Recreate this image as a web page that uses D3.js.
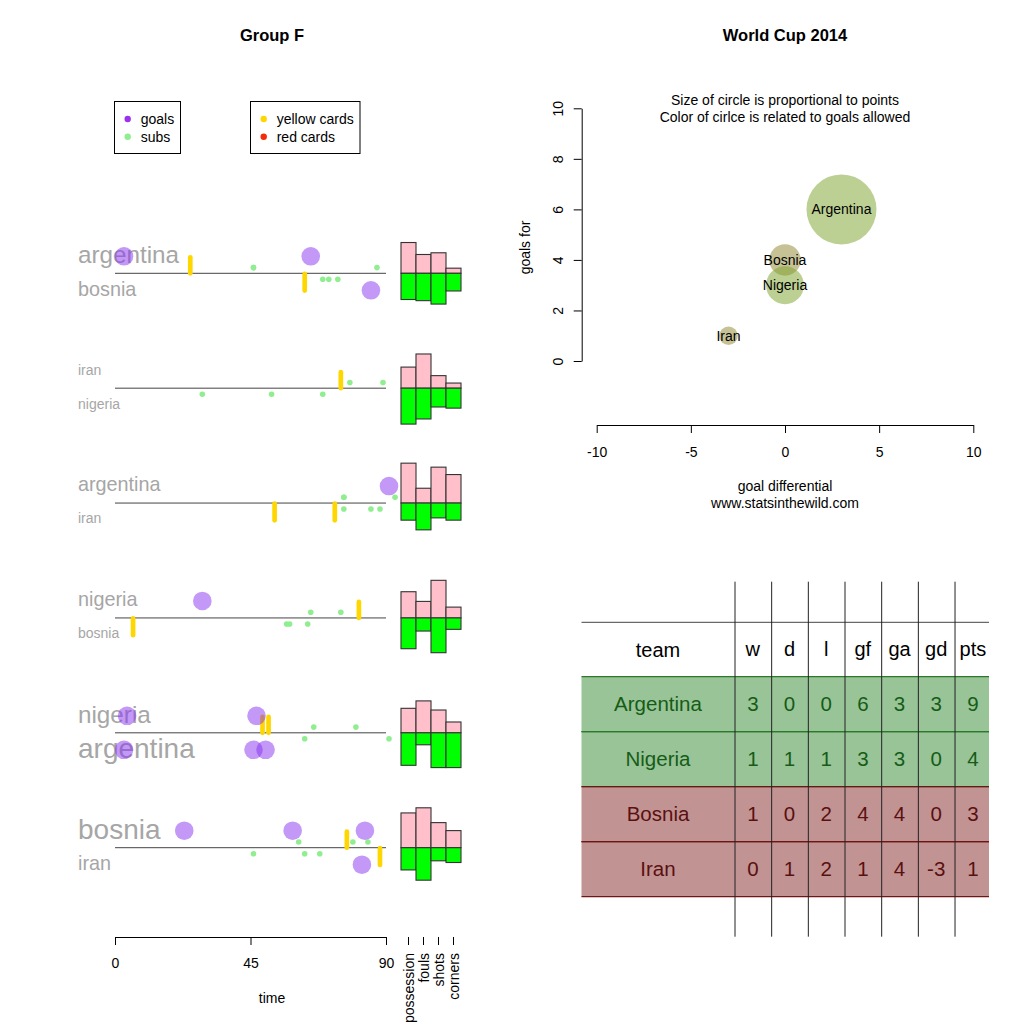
<!DOCTYPE html>
<html><head><meta charset="utf-8">
<script src="https://cdn.jsdelivr.net/npm/d3@7"></script>
<style>
body{margin:0;background:#fff}
svg{display:block}
text{font-family:"Liberation Sans",Arial,Helvetica,sans-serif}
</style>
</head><body>
<svg id="c" width="1024" height="1024"></svg>
<script>
// ---------- data: match timelines ----------
const team1 = ["argentina","iran","argentina","nigeria","nigeria","bosnia"];
const team2 = ["bosnia","nigeria","iran","bosnia","argentina","iran"];
const goals1 = [[3,65],[],[91],[29],[4,47],[23,59,83]];
const goals2 = [[85],[],[],[],[3,46,50],[82]];
const subs1 = [[46,46,87],[78,89],[76,76,93],[65,75],[66,80],[61,79,84]];
const subs2 = [[69,71,74],[29,52,69],[76,85,88],[57,58,64],[63,91],[46,63,68]];
const yellow1 = [[25],[75],[],[81],[49,51],[77]];
const yellow2 = [[63],[],[53,73],[6],[],[88]];
const red1 = [[],[],[],[],[],[]];
const red2 = [[],[],[],[],[],[]];
const statNames = ["possession","fouls","shots","corners"];
const stats1 = [[54,33,36,9],[37,60,22,9],[70,26,63,50],[46,29,66,19],[43,56,40,19],[61,70,44,30]];
const stats2 = [[46,48,54,31],[63,54,33,35],[30,47,26,30],[54,23,61,20],[57,21,61,61],[39,57,23,26]];
const timeTicks = [0,45,90];
const legend1 = ["goals","subs"];
const legend2 = ["yellow cards","red cards"];

// ---------- data: group table ----------
const teams = ["Argentina","Nigeria","Bosnia","Iran"];
const wins = [3,1,1,0];
const draws = [0,1,0,1];
const losses = [0,1,2,2];
const goalsFor = [6,3,4,1];
const goalsAgainst = [3,3,4,4];
const goalDiff = [3,0,0,-3];
const points = [9,4,3,1];
const advanced = [true,true,false,false];
const tableCols = ["w","d","l","gf","ga","gd","pts"];
const gdTicks = [-10,-5,0,5,10];
const gfTicks = [0,2,4,6,8,10];

const svg = d3.select("#c");
const gray = "#a6a6a6";
const FF = "Liberation Sans, Arial, sans-serif";
const FS = 14;
const plain = d => String(d);

// ---------- titles ----------
svg.append("text").attr("x",272).attr("y",41).attr("text-anchor","middle")
  .attr("font-weight","bold").attr("font-size",16.5).text("Group F");
svg.append("text").attr("x",785).attr("y",41).attr("text-anchor","middle")
  .attr("font-weight","bold").attr("font-size",16.5).text("World Cup 2014");

// ---------- legends ----------
const legColors1 = ["#9b30f0","#90ee90"];
const legColors2 = ["#ffd700","#f42a0a"];
function drawLegend(x, w, labels, colors){
  const g = svg.append("g");
  g.append("rect").attr("x",x).attr("y",101.5).attr("width",w).attr("height",52)
    .attr("fill","none").attr("stroke","#000").attr("stroke-width",1);
  labels.forEach((l,k)=>{
    const cy = 119 + k*17.7;
    g.append("circle").attr("cx",x+13.2).attr("cy",cy).attr("r",3.2).attr("fill",colors[k]);
    g.append("text").attr("x",x+26.2).attr("y",cy+5).attr("font-size",FS).text(l);
  });
}
drawLegend(114.5, 66, legend1, legColors1);
drawLegend(250.5, 109.5, legend2, legColors2);

// ---------- match rows ----------
const xT = d3.scaleLinear().domain([0,90]).range([115,386]);
const yRow = d3.scaleLinear().domain([0,5]).range([273.3,847.7]);
const xStat = d3.scaleBand().domain(statNames).range([401,461]);
const hStat = d3.scaleLinear().domain([0,100]).range([0,57]);
const fsOf = g => 14*Math.sqrt(g+1);

team1.forEach((t1,i)=>{
  const y0 = yRow(i);
  const g = svg.append("g");
  const fs1 = fsOf(goals1[i].length), fs2 = fsOf(goals2[i].length);
  g.append("text").attr("x",78).attr("y",y0-18.5+0.35*fs1).attr("font-size",fs1).attr("fill",gray).text(t1);
  g.append("text").attr("x",78).attr("y",y0+15.5+0.35*fs2).attr("font-size",fs2).attr("fill",gray).text(team2[i]);
  g.append("line").attr("x1",xT(0)).attr("x2",xT(90)).attr("y1",y0).attr("y2",y0)
    .attr("stroke","#444").attr("stroke-width",1);
  g.selectAll(".b1").data(statNames).join("rect")
    .attr("x",s=>xStat(s)).attr("width",xStat.bandwidth())
    .attr("y",(s,k)=>y0-hStat(stats1[i][k])).attr("height",(s,k)=>hStat(stats1[i][k]))
    .attr("fill","#ffc0cb").attr("stroke","#333").attr("stroke-width",1.1);
  g.selectAll(".b2").data(statNames).join("rect")
    .attr("x",s=>xStat(s)).attr("width",xStat.bandwidth())
    .attr("y",y0).attr("height",(s,k)=>hStat(stats2[i][k]))
    .attr("fill","#00ff00").attr("stroke","#333").attr("stroke-width",1.1);
  subs1[i].forEach(m=>g.append("circle").attr("cx",xT(m)).attr("cy",y0-5.7).attr("r",2.8).attr("fill","#90ee90"));
  subs2[i].forEach(m=>g.append("circle").attr("cx",xT(m)).attr("cy",y0+6).attr("r",2.8).attr("fill","#90ee90"));
  const card = (m,top,col)=>g.append("line").attr("x1",xT(m)).attr("x2",xT(m))
    .attr("y1",top?y0-16:y0+0.5).attr("y2",top?y0:y0+17.3)
    .attr("stroke",col).attr("stroke-width",4.7).attr("stroke-linecap","round");
  yellow1[i].forEach(m=>card(m,true,"#ffd700"));
  yellow2[i].forEach(m=>card(m,false,"#ffd700"));
  red1[i].forEach(m=>card(m,true,"#f42a0a"));
  red2[i].forEach(m=>card(m,false,"#f42a0a"));
  goals1[i].forEach(m=>g.append("circle").attr("cx",xT(m)).attr("cy",y0-17).attr("r",9.3)
    .attr("fill","#8732ef").attr("fill-opacity",0.5));
  goals2[i].forEach(m=>g.append("circle").attr("cx",xT(m)).attr("cy",y0+17).attr("r",9.3)
    .attr("fill","#8732ef").attr("fill-opacity",0.5));
});

// bottom time axis
const ta = svg.append("g").attr("transform","translate(0,937)")
  .call(d3.axisBottom(xT).tickValues(timeTicks).tickFormat(plain).tickSize(8).tickSizeOuter(0));
ta.attr("font-size",null).attr("font-family",null);
ta.select(".domain").attr("stroke","#000");
ta.selectAll(".tick line").attr("stroke","#000");
ta.selectAll(".tick text").attr("y",26).attr("dy","0.35em").attr("font-size",FS)
  .attr("font-family",FF).attr("fill","#000");
svg.append("text").attr("x",272).attr("y",1003).attr("text-anchor","middle").attr("font-size",FS).text("time");

// stat axis
const sa = svg.append("g").attr("transform","translate(0,937)")
  .call(d3.axisBottom(xStat).tickSize(8));
sa.attr("font-size",null).attr("font-family",null);
sa.select(".domain").remove();
sa.selectAll(".tick line").attr("stroke","#000");
sa.selectAll(".tick text").attr("y",0).attr("dy","0.4em")
  .attr("transform","translate(0,16) rotate(-90)").attr("text-anchor","end")
  .attr("font-size",FS).attr("font-family",FF).attr("fill","#000");

// ---------- bubble chart ----------
const xB = d3.scaleLinear().domain([-10,10]).range([596.7,973.3]);
const yB = d3.scaleLinear().domain([0,10]).range([361,108.3]);
const rB = d3.scaleLinear().domain([1,9]).range([9.3,35]);
const cB = d3.scaleLinear().domain([3,4]).range(["rgb(121,161,39)","rgb(141,133,43)"]);

svg.append("text").attr("x",785).attr("y",105).attr("text-anchor","middle").attr("font-size",FS)
  .text("Size of circle is proportional to points");
svg.append("text").attr("x",785).attr("y",121.7).attr("text-anchor","middle").attr("font-size",FS)
  .text("Color of cirlce is related to goals allowed");

const bubbleOrder = [0,2,1,3];
svg.append("g").selectAll("circle").data(bubbleOrder).join("circle")
  .attr("cx",i=>xB(goalDiff[i])).attr("cy",i=>yB(goalsFor[i])).attr("r",i=>rB(points[i]))
  .attr("fill",i=>cB(goalsAgainst[i])).attr("fill-opacity",0.5);
svg.append("g").selectAll("text").data(bubbleOrder).join("text")
  .attr("x",i=>xB(goalDiff[i])).attr("y",i=>yB(goalsFor[i])).attr("dy","0.35em")
  .attr("text-anchor","middle").attr("font-size",FS).text(i=>teams[i]);

const bx = svg.append("g").attr("transform","translate(0,425)")
  .call(d3.axisBottom(xB).tickValues(gdTicks).tickFormat(plain).tickSize(8).tickSizeOuter(0));
bx.attr("font-size",null).attr("font-family",null);
bx.select(".domain").attr("stroke","#000");
bx.selectAll(".tick line").attr("stroke","#000");
bx.selectAll(".tick text").attr("y",26.7).attr("dy","0.35em").attr("font-size",FS)
  .attr("font-family",FF).attr("fill","#000");

const by = svg.append("g").attr("transform","translate(581.7,0)")
  .call(d3.axisLeft(yB).tickValues(gfTicks).tickFormat(plain).tickSize(8).tickSizeOuter(0));
by.attr("font-size",null).attr("font-family",null);
by.select(".domain").attr("stroke","#000");
by.selectAll(".tick line").attr("stroke","#000");
by.selectAll(".tick text").attr("x",0).attr("dy","0.35em")
  .attr("transform","translate(-23.4,0) rotate(-90)").attr("text-anchor","middle")
  .attr("font-size",FS).attr("font-family",FF).attr("fill","#000");

svg.append("text").attr("x",785).attr("y",490.5).attr("text-anchor","middle").attr("font-size",FS).text("goal differential");
svg.append("text").attr("x",785).attr("y",508).attr("text-anchor","middle").attr("font-size",FS).text("www.statsinthewild.com");
svg.append("text").attr("transform","translate(525,247.5) rotate(-90)").attr("dy","0.35em")
  .attr("text-anchor","middle").attr("font-size",FS).text("goals for");

// ---------- table ----------
const xCol = d3.scaleBand().domain(tableCols).range([735,991.7]);
const yTab = d3.scaleBand().domain(teams).range([676.7,896.7]);
const tableVals = [wins,draws,losses,goalsFor,goalsAgainst,goalDiff,points];
const fillOf = i => advanced[i] ? "#98c498" : "#c29393";
const textOf = i => advanced[i] ? "#165c16" : "#5a1010";
const lineOf = i => advanced[i] ? "#2a7a2a" : "#6e1616";

const tg = svg.append("g");
tg.selectAll("rect").data(teams).join("rect")
  .attr("x",581.5).attr("width",407.5).attr("y",t=>yTab(t)).attr("height",yTab.bandwidth())
  .attr("fill",(t,i)=>fillOf(i));
tg.append("line").attr("x1",581.5).attr("x2",989).attr("y1",622.3).attr("y2",622.3)
  .attr("stroke","#444").attr("stroke-width",1);
teams.forEach((t,i)=>{
  [yTab(t), yTab(t)+yTab.bandwidth()].forEach(yy=>{
    tg.append("line").attr("x1",581.5).attr("x2",989).attr("y1",yy).attr("y2",yy)
      .attr("stroke",lineOf(i)).attr("stroke-width",1.2);
  });
});
tg.selectAll(".vl").data(tableCols).join("line")
  .attr("x1",c=>xCol(c)).attr("x2",c=>xCol(c)).attr("y1",581.7).attr("y2",936.7)
  .attr("stroke","#222").attr("stroke-width",1);
tg.append("text").attr("x",658).attr("y",649.5).attr("dy","0.35em").attr("text-anchor","middle")
  .attr("font-size",20).text("team");
tg.selectAll(".hd").data(tableCols).join("text")
  .attr("x",c=>xCol(c)+xCol.bandwidth()/2-0.5).attr("y",648.5).attr("dy","0.35em")
  .attr("text-anchor","middle").attr("font-size",20).text(c=>c);
teams.forEach((t,i)=>{
  const cy = yTab(t)+yTab.bandwidth()/2;
  tg.append("text").attr("x",658).attr("y",cy).attr("dy","0.35em").attr("text-anchor","middle")
    .attr("font-size",20.5).attr("fill",textOf(i)).text(t);
  tableCols.forEach((c,k)=>{
    tg.append("text").attr("x",xCol(c)+xCol.bandwidth()/2-0.5).attr("y",cy).attr("dy","0.35em")
      .attr("text-anchor","middle").attr("font-size",20.5).attr("fill",textOf(i)).text(tableVals[k][i]);
  });
});
</script>
</body></html>
